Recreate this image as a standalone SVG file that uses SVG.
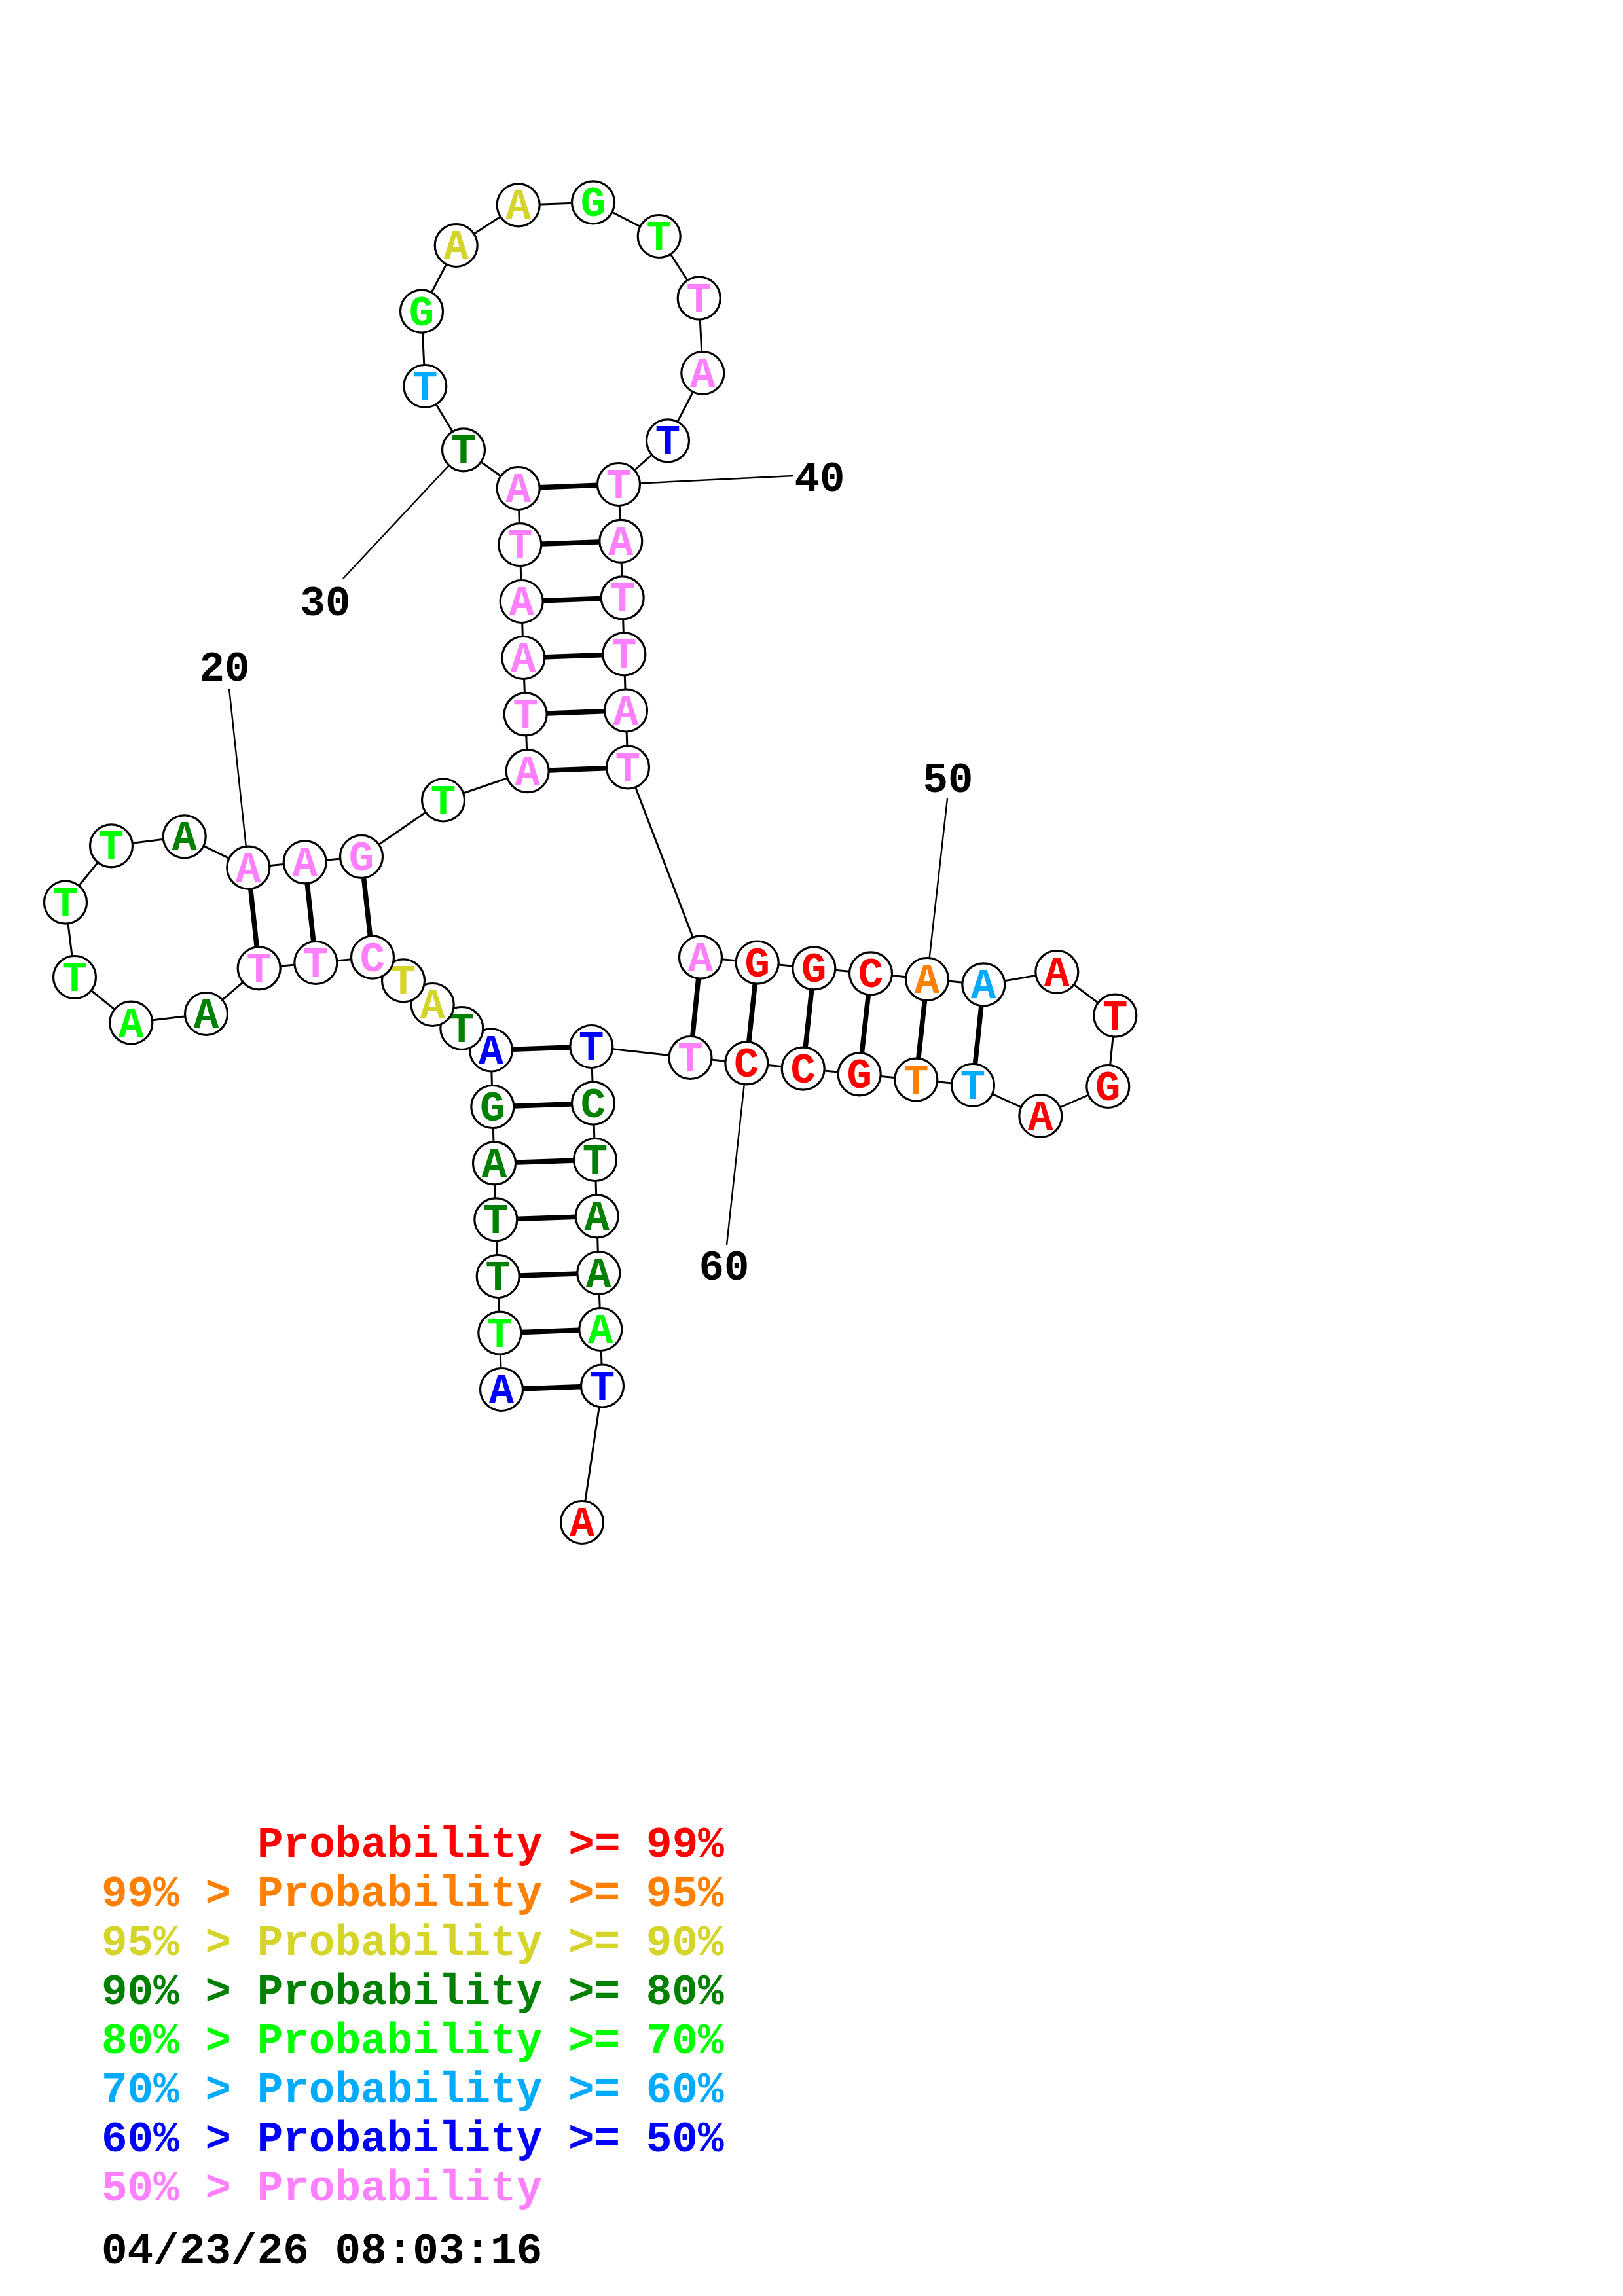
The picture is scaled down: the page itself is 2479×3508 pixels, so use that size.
<svg xmlns="http://www.w3.org/2000/svg" width="2479" height="3508" viewBox="0 0 2479 3508">
<style>
.bb{fill:none;stroke:#000;stroke-width:3;stroke-linejoin:round}
.pr{stroke:#000;stroke-width:7.5}
.ld{stroke:#000;stroke-width:2.4}
.n circle{fill:#fff;stroke:#000;stroke-width:3.2}
text{font-family:"Liberation Mono","Courier New",monospace;font-weight:bold}
.n text{font-size:64px;text-anchor:middle}
.lbl{font-size:64px;text-anchor:middle;fill:#000}
.lg{font-size:66px}
.r{fill:#ff0000}.o{fill:#ff8000}.y{fill:#d4d42b}.d{fill:#008000}.l{fill:#00ff00}.s{fill:#00aaff}.b{fill:#0000ff}.p{fill:#ff80ff}.k{fill:#000}
</style>
<rect width="2479" height="3508" fill="#fff"/>
<g id="connectors">
<polyline class="bb" points="766,2123 763.3,2036.7 760.7,1950 757.3,1863.3 755,1777.3 752.3,1691 750,1604.5 705.3,1571 660.7,1535 616,1498.3 569,1462.7 482.3,1471 395.7,1479.3 315,1549 200.3,1562.7 114,1493 100,1378.7 170,1292.3 281.7,1278.3 379.3,1325.7 465.7,1317.3 552,1308.8 677,1222.5 805.7,1178.2 802.7,1091.3 799.3,1005 796.7,919 794.3,832.2 791.7,746 708,687.3 649.3,590 644,475.7 696.7,375 791.7,313.3 906,309.3 1006.7,361 1067.7,455.7 1073.3,570 1020,673.3 945,740 948.3,826.8 950.7,913.3 953.3,999.4 956,1085.5 959,1172.5 1070,1462.7 1156.7,1470.7 1243.3,1479.3 1330,1487.3 1416,1496 1502.3,1504.3 1614.3,1485 1703.3,1551.7 1692.3,1660 1589.3,1705 1486,1658 1399.3,1649.7 1312.7,1641.3 1226.7,1632.7 1140.3,1624.3 1054.5,1616 903.3,1599 906,1685.7 909,1772 911.7,1858.3 914.3,1945 917.3,2031 920,2117.5 889,2326"/>
<g id="pairs">
<line class="pr" x1="766" y1="2123" x2="920" y2="2117.5"/>
<line class="pr" x1="763.3" y1="2036.7" x2="917.3" y2="2031"/>
<line class="pr" x1="760.7" y1="1950" x2="914.3" y2="1945"/>
<line class="pr" x1="757.3" y1="1863.3" x2="911.7" y2="1858.3"/>
<line class="pr" x1="755" y1="1777.3" x2="909" y2="1772"/>
<line class="pr" x1="752.3" y1="1691" x2="906" y2="1685.7"/>
<line class="pr" x1="750" y1="1604.5" x2="903.3" y2="1599"/>
<line class="pr" x1="379.3" y1="1325.7" x2="395.7" y2="1479.3"/>
<line class="pr" x1="465.7" y1="1317.3" x2="482.3" y2="1471"/>
<line class="pr" x1="552" y1="1308.8" x2="569" y2="1462.7"/>
<line class="pr" x1="805.7" y1="1178.2" x2="959" y2="1172.5"/>
<line class="pr" x1="802.7" y1="1091.3" x2="956" y2="1085.5"/>
<line class="pr" x1="799.3" y1="1005" x2="953.3" y2="999.4"/>
<line class="pr" x1="796.7" y1="919" x2="950.7" y2="913.3"/>
<line class="pr" x1="794.3" y1="832.2" x2="948.3" y2="826.8"/>
<line class="pr" x1="791.7" y1="746" x2="945" y2="740"/>
<line class="pr" x1="1070" y1="1462.7" x2="1054.5" y2="1616"/>
<line class="pr" x1="1156.7" y1="1470.7" x2="1140.3" y2="1624.3"/>
<line class="pr" x1="1243.3" y1="1479.3" x2="1226.7" y2="1632.7"/>
<line class="pr" x1="1330" y1="1487.3" x2="1312.7" y2="1641.3"/>
<line class="pr" x1="1416" y1="1496" x2="1399.3" y2="1649.7"/>
<line class="pr" x1="1502.3" y1="1504.3" x2="1486" y2="1658"/>
</g>
<g id="leaders">
<line class="ld" x1="379.3" y1="1325.7" x2="350" y2="1052"/>
<line class="ld" x1="708" y1="687.3" x2="524" y2="884"/>
<line class="ld" x1="945" y1="740" x2="1212" y2="727"/>
<line class="ld" x1="1416" y1="1496" x2="1447" y2="1220"/>
<line class="ld" x1="1140.3" y1="1624.3" x2="1110" y2="1902"/>
</g>
</g>
<g id="nodes">
<g id="n1" class="n"><circle cx="766" cy="2123" r="32.5"/><text x="766" y="2144" class="b">A</text></g>
<g id="n2" class="n"><circle cx="763.3" cy="2036.7" r="32.5"/><text x="763.3" y="2057.7" class="l">T</text></g>
<g id="n3" class="n"><circle cx="760.7" cy="1950" r="32.5"/><text x="760.7" y="1971" class="d">T</text></g>
<g id="n4" class="n"><circle cx="757.3" cy="1863.3" r="32.5"/><text x="757.3" y="1884.3" class="d">T</text></g>
<g id="n5" class="n"><circle cx="755" cy="1777.3" r="32.5"/><text x="755" y="1798.3" class="d">A</text></g>
<g id="n6" class="n"><circle cx="752.3" cy="1691" r="32.5"/><text x="752.3" y="1712" class="d">G</text></g>
<g id="n7" class="n"><circle cx="750" cy="1604.5" r="32.5"/><text x="750" y="1625.5" class="b">A</text></g>
<g id="n8" class="n"><circle cx="705.3" cy="1571" r="32.5"/><text x="705.3" y="1592" class="d">T</text></g>
<g id="n9" class="n"><circle cx="660.7" cy="1535" r="32.5"/><text x="660.7" y="1556" class="y">A</text></g>
<g id="n10" class="n"><circle cx="616" cy="1498.3" r="32.5"/><text x="616" y="1519.3" class="y">T</text></g>
<g id="n11" class="n"><circle cx="569" cy="1462.7" r="32.5"/><text x="569" y="1483.7" class="p">C</text></g>
<g id="n12" class="n"><circle cx="482.3" cy="1471" r="32.5"/><text x="482.3" y="1492" class="p">T</text></g>
<g id="n13" class="n"><circle cx="395.7" cy="1479.3" r="32.5"/><text x="395.7" y="1500.3" class="p">T</text></g>
<g id="n14" class="n"><circle cx="315" cy="1549" r="32.5"/><text x="315" y="1570" class="d">A</text></g>
<g id="n15" class="n"><circle cx="200.3" cy="1562.7" r="32.5"/><text x="200.3" y="1583.7" class="l">A</text></g>
<g id="n16" class="n"><circle cx="114" cy="1493" r="32.5"/><text x="114" y="1514" class="l">T</text></g>
<g id="n17" class="n"><circle cx="100" cy="1378.7" r="32.5"/><text x="100" y="1399.7" class="l">T</text></g>
<g id="n18" class="n"><circle cx="170" cy="1292.3" r="32.5"/><text x="170" y="1313.3" class="l">T</text></g>
<g id="n19" class="n"><circle cx="281.7" cy="1278.3" r="32.5"/><text x="281.7" y="1299.3" class="d">A</text></g>
<g id="n20" class="n"><circle cx="379.3" cy="1325.7" r="32.5"/><text x="379.3" y="1346.7" class="p">A</text></g>
<g id="n21" class="n"><circle cx="465.7" cy="1317.3" r="32.5"/><text x="465.7" y="1338.3" class="p">A</text></g>
<g id="n22" class="n"><circle cx="552" cy="1308.8" r="32.5"/><text x="552" y="1329.8" class="p">G</text></g>
<g id="n23" class="n"><circle cx="677" cy="1222.5" r="32.5"/><text x="677" y="1243.5" class="l">T</text></g>
<g id="n24" class="n"><circle cx="805.7" cy="1178.2" r="32.5"/><text x="805.7" y="1199.2" class="p">A</text></g>
<g id="n25" class="n"><circle cx="802.7" cy="1091.3" r="32.5"/><text x="802.7" y="1112.3" class="p">T</text></g>
<g id="n26" class="n"><circle cx="799.3" cy="1005" r="32.5"/><text x="799.3" y="1026" class="p">A</text></g>
<g id="n27" class="n"><circle cx="796.7" cy="919" r="32.5"/><text x="796.7" y="940" class="p">A</text></g>
<g id="n28" class="n"><circle cx="794.3" cy="832.2" r="32.5"/><text x="794.3" y="853.2" class="p">T</text></g>
<g id="n29" class="n"><circle cx="791.7" cy="746" r="32.5"/><text x="791.7" y="767" class="p">A</text></g>
<g id="n30" class="n"><circle cx="708" cy="687.3" r="32.5"/><text x="708" y="708.3" class="d">T</text></g>
<g id="n31" class="n"><circle cx="649.3" cy="590" r="32.5"/><text x="649.3" y="611" class="s">T</text></g>
<g id="n32" class="n"><circle cx="644" cy="475.7" r="32.5"/><text x="644" y="496.7" class="l">G</text></g>
<g id="n33" class="n"><circle cx="696.7" cy="375" r="32.5"/><text x="696.7" y="396" class="y">A</text></g>
<g id="n34" class="n"><circle cx="791.7" cy="313.3" r="32.5"/><text x="791.7" y="334.3" class="y">A</text></g>
<g id="n35" class="n"><circle cx="906" cy="309.3" r="32.5"/><text x="906" y="330.3" class="l">G</text></g>
<g id="n36" class="n"><circle cx="1006.7" cy="361" r="32.5"/><text x="1006.7" y="382" class="l">T</text></g>
<g id="n37" class="n"><circle cx="1067.7" cy="455.7" r="32.5"/><text x="1067.7" y="476.7" class="p">T</text></g>
<g id="n38" class="n"><circle cx="1073.3" cy="570" r="32.5"/><text x="1073.3" y="591" class="p">A</text></g>
<g id="n39" class="n"><circle cx="1020" cy="673.3" r="32.5"/><text x="1020" y="694.3" class="b">T</text></g>
<g id="n40" class="n"><circle cx="945" cy="740" r="32.5"/><text x="945" y="761" class="p">T</text></g>
<g id="n41" class="n"><circle cx="948.3" cy="826.8" r="32.5"/><text x="948.3" y="847.8" class="p">A</text></g>
<g id="n42" class="n"><circle cx="950.7" cy="913.3" r="32.5"/><text x="950.7" y="934.3" class="p">T</text></g>
<g id="n43" class="n"><circle cx="953.3" cy="999.4" r="32.5"/><text x="953.3" y="1020.4" class="p">T</text></g>
<g id="n44" class="n"><circle cx="956" cy="1085.5" r="32.5"/><text x="956" y="1106.5" class="p">A</text></g>
<g id="n45" class="n"><circle cx="959" cy="1172.5" r="32.5"/><text x="959" y="1193.5" class="p">T</text></g>
<g id="n46" class="n"><circle cx="1070" cy="1462.7" r="32.5"/><text x="1070" y="1483.7" class="p">A</text></g>
<g id="n47" class="n"><circle cx="1156.7" cy="1470.7" r="32.5"/><text x="1156.7" y="1491.7" class="r">G</text></g>
<g id="n48" class="n"><circle cx="1243.3" cy="1479.3" r="32.5"/><text x="1243.3" y="1500.3" class="r">G</text></g>
<g id="n49" class="n"><circle cx="1330" cy="1487.3" r="32.5"/><text x="1330" y="1508.3" class="r">C</text></g>
<g id="n50" class="n"><circle cx="1416" cy="1496" r="32.5"/><text x="1416" y="1517" class="o">A</text></g>
<g id="n51" class="n"><circle cx="1502.3" cy="1504.3" r="32.5"/><text x="1502.3" y="1525.3" class="s">A</text></g>
<g id="n52" class="n"><circle cx="1614.3" cy="1485" r="32.5"/><text x="1614.3" y="1506" class="r">A</text></g>
<g id="n53" class="n"><circle cx="1703.3" cy="1551.7" r="32.5"/><text x="1703.3" y="1572.7" class="r">T</text></g>
<g id="n54" class="n"><circle cx="1692.3" cy="1660" r="32.5"/><text x="1692.3" y="1681" class="r">G</text></g>
<g id="n55" class="n"><circle cx="1589.3" cy="1705" r="32.5"/><text x="1589.3" y="1726" class="r">A</text></g>
<g id="n56" class="n"><circle cx="1486" cy="1658" r="32.5"/><text x="1486" y="1679" class="s">T</text></g>
<g id="n57" class="n"><circle cx="1399.3" cy="1649.7" r="32.5"/><text x="1399.3" y="1670.7" class="o">T</text></g>
<g id="n58" class="n"><circle cx="1312.7" cy="1641.3" r="32.5"/><text x="1312.7" y="1662.3" class="r">G</text></g>
<g id="n59" class="n"><circle cx="1226.7" cy="1632.7" r="32.5"/><text x="1226.7" y="1653.7" class="r">C</text></g>
<g id="n60" class="n"><circle cx="1140.3" cy="1624.3" r="32.5"/><text x="1140.3" y="1645.3" class="r">C</text></g>
<g id="n61" class="n"><circle cx="1054.5" cy="1616" r="32.5"/><text x="1054.5" y="1637" class="p">T</text></g>
<g id="n62" class="n"><circle cx="903.3" cy="1599" r="32.5"/><text x="903.3" y="1620" class="b">T</text></g>
<g id="n63" class="n"><circle cx="906" cy="1685.7" r="32.5"/><text x="906" y="1706.7" class="d">C</text></g>
<g id="n64" class="n"><circle cx="909" cy="1772" r="32.5"/><text x="909" y="1793" class="d">T</text></g>
<g id="n65" class="n"><circle cx="911.7" cy="1858.3" r="32.5"/><text x="911.7" y="1879.3" class="d">A</text></g>
<g id="n66" class="n"><circle cx="914.3" cy="1945" r="32.5"/><text x="914.3" y="1966" class="d">A</text></g>
<g id="n67" class="n"><circle cx="917.3" cy="2031" r="32.5"/><text x="917.3" y="2052" class="l">A</text></g>
<g id="n68" class="n"><circle cx="920" cy="2117.5" r="32.5"/><text x="920" y="2138.5" class="b">T</text></g>
<g id="n69" class="n"><circle cx="889" cy="2326" r="32.5"/><text x="889" y="2347" class="r">A</text></g>
</g>
<g id="labels">
<text class="lbl" x="343" y="1040">20</text>
<text class="lbl" x="497" y="940">30</text>
<text class="lbl" x="1252" y="750">40</text>
<text class="lbl" x="1448" y="1210">50</text>
<text class="lbl" x="1106" y="1955">60</text>
</g>
<g id="legend" class="lg">
<text x="393" y="2837" class="r">Probability &gt;= 99%</text>
<text x="155" y="2912" class="o">99% &gt; Probability &gt;= 95%</text>
<text x="155" y="2987" class="y">95% &gt; Probability &gt;= 90%</text>
<text x="155" y="3062" class="d">90% &gt; Probability &gt;= 80%</text>
<text x="155" y="3137" class="l">80% &gt; Probability &gt;= 70%</text>
<text x="155" y="3212" class="s">70% &gt; Probability &gt;= 60%</text>
<text x="155" y="3287" class="b">60% &gt; Probability &gt;= 50%</text>
<text x="155" y="3362" class="p">50% &gt; Probability</text>
<text x="155" y="3458" class="k">04/23/26 08:03:16</text>
</g>
</svg>
